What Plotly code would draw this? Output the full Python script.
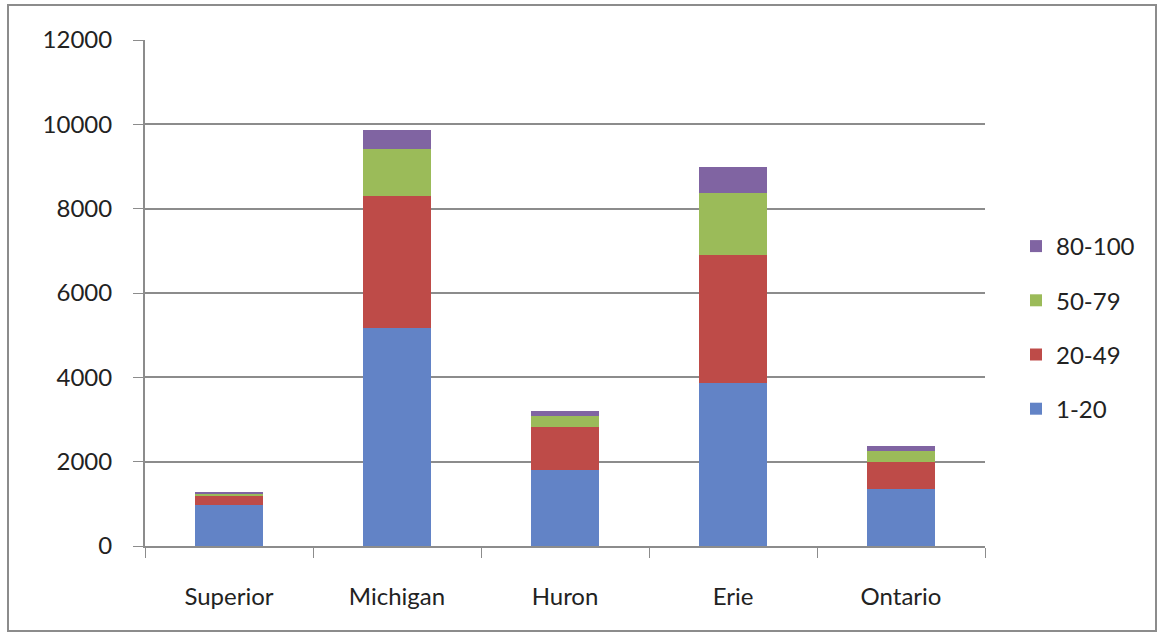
import plotly.graph_objects as go

lakes = ["Superior", "Michigan", "Huron", "Erie", "Ontario"]
s_1_20 = [970, 5170, 1800, 3870, 1345]
s_20_49 = [215, 3130, 1030, 3030, 655]
s_50_79 = [65, 1110, 260, 1470, 260]
s_80_100 = [25, 460, 110, 630, 110]
y_ticks = [0, 2000, 4000, 6000, 8000, 10000, 12000]

series = [
    ("1-20", s_1_20, "#6283C6"),
    ("20-49", s_20_49, "#BE4B48"),
    ("50-79", s_50_79, "#9BBB59"),
    ("80-100", s_80_100, "#8064A2"),
]

fig = go.Figure()
for i, (name, vals, col) in enumerate(series):
    fig.add_trace(go.Bar(
        x=lakes, y=vals, name=name, legendgroup=name,
        legendrank=1000 - i,
        marker=dict(color=col, line=dict(width=0)),
    ))

W, H = 1161, 637
L, R, T, B = 145, 176, 40, 91
pw, ph = W - L - R, H - T - B

def px(x):
    return (x - L) / pw

def py(y):
    return (H - B - y) / ph

fig.add_shape(type="rect", xref="paper", yref="paper",
              x0=px(8), x1=px(1156), y0=py(5), y1=py(631),
              line=dict(color="#8C8C8C", width=2), fillcolor="rgba(0,0,0,0)")

fig.update_layout(
    width=W, height=H,
    margin=dict(l=L, r=R, t=T, b=B),
    barmode="stack", bargap=0.6,
    plot_bgcolor="white", paper_bgcolor="white",
    font=dict(family="Lato, Open Sans, sans-serif", size=24, color="#222222"),
    legend=dict(traceorder="grouped", tracegroupgap=20,
                x=px(1016), xanchor="left", y=py(224), yanchor="top",
                font=dict(size=24), itemwidth=30),
    showlegend=True,
)
fig.update_xaxes(
    showline=True, linecolor="#8C8C8C", linewidth=2,
    ticks="outside", tickson="boundaries", ticklen=10, tickcolor="#8C8C8C",
    ticklabelstandoff=28, showgrid=False,
)
fig.update_yaxes(
    range=[0, 12000], tickvals=y_ticks, ticktext=[str(v) for v in y_ticks],
    showline=True, linecolor="#8C8C8C", linewidth=2,
    ticks="outside", ticklen=10, tickcolor="#8C8C8C",
    showgrid=True, gridcolor="#8C8C8C", gridwidth=1.5,
    ticklabelstandoff=16, zeroline=False,
)

fig.write_html("out.html")
